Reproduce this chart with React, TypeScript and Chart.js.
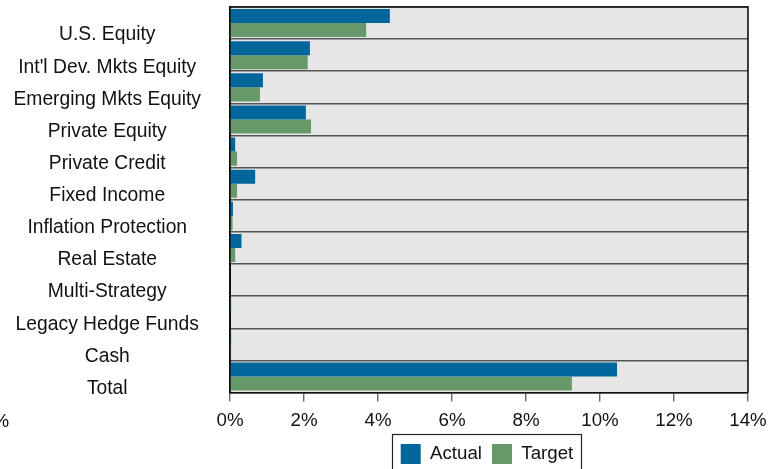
import React, { useEffect, useRef } from "react";
import { Chart, registerables } from "chart.js";

Chart.register(...registerables);

const categories = [
  "U.S. Equity",
  "Int'l Dev. Mkts Equity",
  "Emerging Mkts Equity",
  "Private Equity",
  "Private Credit",
  "Fixed Income",
  "Inflation Protection",
  "Real Estate",
  "Multi-Strategy",
  "Legacy Hedge Funds",
  "Cash",
  "Total",
];
const actualValues = [4.32, 2.16, 0.89, 2.05, 0.14, 0.68, 0.08, 0.31, 0.0, 0.03, 0.03, 10.46];
const targetValues = [3.68, 2.1, 0.81, 2.19, 0.19, 0.19, 0.07, 0.14, 0.0, 0.0, 0.03, 9.24];
const xTicks = [0, 2, 4, 6, 8, 10, 12, 14];

const FONT = "'Liberation Sans', Arial, sans-serif";
const FS_Y = 19.3;
const FS = 18.7;
const LEGEND_PAD = 10;
const LEGEND_BOX = 20;

const decorPlugin = {
  id: "decor",
  afterLayout(chart: any) {
    const lg = chart.legend;
    const ca = chart.chartArea;
    if (lg && ca) {
      lg.left = ca.left - 2;
      lg.right = ca.right - 2;
    }
  },
  beforeDraw(chart: any) {
    const { ctx, chartArea } = chart;
    ctx.save();
    ctx.fillStyle = "#E6E6E6";
    ctx.fillRect(chartArea.left, chartArea.top, chartArea.right - chartArea.left, chartArea.bottom - chartArea.top);
    ctx.restore();
  },
  afterDraw(chart: any) {
    const { ctx, chartArea, legend } = chart;
    ctx.save();
    ctx.strokeStyle = "#111";
    ctx.lineWidth = 1.6;
    ctx.beginPath();
    ctx.moveTo(chartArea.left, chartArea.top);
    ctx.lineTo(chartArea.right, chartArea.top);
    ctx.lineTo(chartArea.right, chartArea.bottom);
    ctx.stroke();
    // legend frame
    if (legend && legend.legendItems && legend.legendItems.length) {
      ctx.font = FS + "px " + FONT;
      let total = 0;
      legend.legendItems.forEach((it: any, i: number) => {
        total += LEGEND_BOX + FS / 2 + ctx.measureText(it.text).width;
        if (i > 0) total += LEGEND_PAD;
      });
      const cx = (legend.left + legend.right) / 2;
      const l = Math.round(cx - total / 2 - 9) + 0.5;
      const r = Math.round(cx + total / 2 + 8) + 0.5;
      const t = Math.round(legend.top + LEGEND_PAD - 10.5) + 0.5;
      ctx.strokeStyle = "#222";
      ctx.lineWidth = 1.2;
      ctx.strokeRect(l, t, r - l, 60);
    }
    // clipped stray label at far left
    ctx.fillStyle = "#111";
    ctx.font = FS + "px " + FONT;
    ctx.textAlign = "right";
    ctx.textBaseline = "middle";
    ctx.fillText("%", 9, chartArea.bottom + 29);
    ctx.restore();
  },
};

export default function App() {
  const ref = useRef<HTMLCanvasElement>(null);
  useEffect(() => {
    if (!ref.current) return;
    const chart = new Chart(ref.current, {
      type: "bar",
      data: {
        labels: categories,
        datasets: [
          {
            label: "Actual",
            data: actualValues,
            backgroundColor: "#00669B",
            borderWidth: 0,
            categoryPercentage: 0.875,
            barPercentage: 1,
          },
          {
            label: "Target",
            data: targetValues,
            backgroundColor: "#67986A",
            borderWidth: 0,
            categoryPercentage: 0.875,
            barPercentage: 1,
          },
        ],
      },
      options: {
        indexAxis: "y",
        animation: false,
        responsive: false,
        maintainAspectRatio: false,
        layout: { padding: { top: 7, right: 32, left: 0, bottom: -5 } },
        scales: {
          x: {
            min: 0,
            max: 14,
            afterBuildTicks(scale: any) {
              scale.ticks = xTicks.map((v) => ({ value: v }));
            },
            afterFit(scale: any) {
              scale.height -= 6;
            },
            ticks: {
              callback: (v: any) => v + "%",
              color: "#111",
              font: { family: FONT, size: FS },
              padding: 8,
            },
            grid: {
              drawOnChartArea: false,
              drawTicks: true,
              tickLength: 9,
              color: "#666",
              lineWidth: 1.4,
            },
            border: { display: true, color: "#111", width: 1.5 },
          },
          y: {
            afterFit(scale: any) {
              scale.width = 230;
              scale.paddingTop = 0;
              scale.paddingBottom = 0;
            },
            ticks: {
              crossAlign: "center",
              padding: 29,
              labelOffset: 12,
              color: "#111",
              font: { family: FONT, size: FS_Y },
            },
            grid: {
              offset: true,
              drawTicks: false,
              color: "#555",
              lineWidth: 1.6,
            },
            border: { display: true, color: "#111", width: 2 },
          },
        },
        plugins: {
          legend: {
            position: "bottom",
            labels: {
              boxWidth: LEGEND_BOX,
              boxHeight: LEGEND_BOX,
              padding: LEGEND_PAD,
              color: "#111",
              font: { family: FONT, size: FS },
            },
          },
          tooltip: { enabled: false },
        },
      } as any,
      plugins: [decorPlugin],
    });
    return () => chart.destroy();
  }, []);
  return (
    <div style={{ position: "fixed", left: 0, top: 0, width: 780, height: 469, background: "#fff" }}>
      <canvas ref={ref} width={780} height={469} style={{ width: 780, height: 469, display: "block" }} />
    </div>
  );
}
